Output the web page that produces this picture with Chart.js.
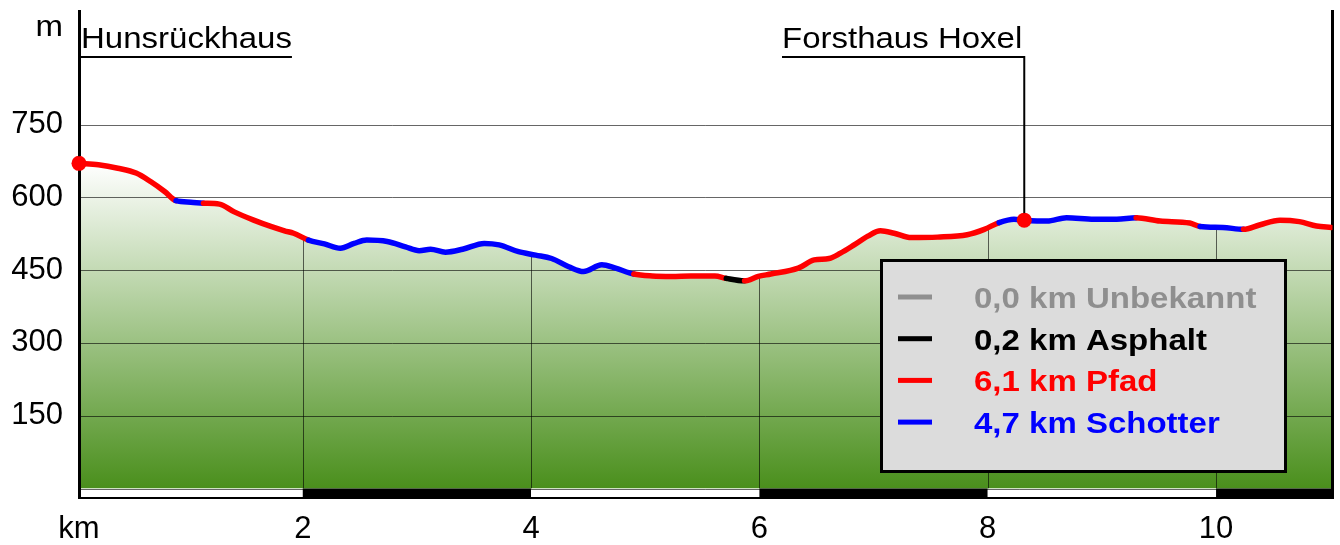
<!DOCTYPE html>
<html lang="de">
<head>
<meta charset="utf-8">
<title>Höhenprofil Hunsrückhaus – Forsthaus Hoxel</title>
<script src="https://cdn.jsdelivr.net/npm/chart.js@4.4.1/dist/chart.umd.min.js"></script>
<style>
    html, body { margin: 0; padding: 0; background: #fff; }
    #wrap { width: 1340px; height: 545px; }
</style>
</head>
<body>
<div id="wrap"><canvas id="profileChart" width="1340" height="545"></canvas></div>
<script>
// Streckenprofil: Distanz (km), Höhe (m), Wegbelag ab diesem Punkt
const distKm = [
    0.04, 0.21, 0.38, 0.54, 0.67, 0.79, 0.89, 1.02, 1.13, 1.27,
    1.40, 1.57, 1.72, 1.84, 1.92, 2.05, 2.19, 2.33, 2.45, 2.56,
    2.74, 2.90, 3.02, 3.12, 3.25, 3.40, 3.59, 3.72, 3.89, 4.04,
    4.18, 4.33, 4.46, 4.62, 4.74, 4.90, 5.06, 5.23, 5.40, 5.61,
    5.71, 5.87, 5.99, 6.10, 6.34, 6.48, 6.61, 6.71, 6.83, 6.95,
    7.06, 7.18, 7.33, 7.56, 7.82, 7.97, 8.10, 8.23, 8.32, 8.52,
    8.69, 8.93, 9.13, 9.30, 9.51, 9.77, 9.86, 10.06, 10.24, 10.38,
    10.56, 10.73, 10.88, 11.01
];
const elevM = [
    670, 667, 660, 650, 632, 612, 593, 590, 588, 586,
    570, 553, 540, 531, 526, 512, 504, 495, 505, 512,
    509, 498, 490, 493, 487, 493, 505, 502, 488, 481,
    474, 457, 447, 461, 454, 442, 438, 437, 438, 438,
    433, 428, 437, 442, 454, 471, 474, 485, 502, 520,
    531, 526, 517, 518, 523, 534, 548, 555, 553, 551,
    558, 555, 555, 558, 551, 547, 540, 538, 534, 543,
    553, 550, 541, 538
];
const surfaceCode = [
    'P', 'P', 'P', 'P', 'P', 'P', 'S', 'S', 'P', 'P',
    'P', 'P', 'P', 'P', 'P', 'S', 'S', 'S', 'S', 'S',
    'S', 'S', 'S', 'S', 'S', 'S', 'S', 'S', 'S', 'S',
    'S', 'S', 'S', 'S', 'S', 'P', 'P', 'P', 'P', 'P',
    'A', 'P', 'P', 'P', 'P', 'P', 'P', 'P', 'P', 'P',
    'P', 'P', 'P', 'P', 'P', 'P', 'S', 'S', 'S', 'S',
    'S', 'S', 'S', 'P', 'P', 'P', 'S', 'S', 'P', 'P',
    'P', 'P', 'P', 'P'
];

// Legende Wegbelag
const surfaceKeys = ['U', 'A', 'P', 'S'];
const surfaceNames = ['Unbekannt', 'Asphalt', 'Pfad', 'Schotter'];
const surfaceKm = ['0,0', '0,2', '6,1', '4,7'];
const surfaceColors = ['#8f8f8f', '#000000', '#ff0000', '#0000ff'];

// Wegpunkte (Index in das Profil)
const waypointNames = ['Hunsrückhaus', 'Forsthaus Hoxel'];
const waypointIdx = [0, 58];

// Achsen
const xMinKm = 0.04;
const xMaxKm = 11.02;
const xTicksKm = [2, 4, 6, 8, 10];
const yMinM = -21.6;
const yMaxM = 986;
const yTicksM = [150, 300, 450, 600, 750];
const gridM = [0, 150, 300, 450, 600, 750];

const FONT = "'Liberation Sans', Arial, sans-serif";
const STRETCH = 1.1;

const colorFor = (code) => surfaceColors[surfaceKeys.indexOf(code)];

function wideText(ctx, text, x, y, align) {
    ctx.save();
    ctx.translate(x, y);
    ctx.scale(STRETCH, 1);
    ctx.textAlign = align;
    ctx.textBaseline = 'alphabetic';
    ctx.fillText(text, 0, 0);
    ctx.restore();
}

const profileDecor = {
    id: 'profileDecor',
    afterDatasetDraw(chart, args) {
        // nach der Flächenfüllung, vor der farbigen Linie
        if (args.index !== 0) return;
        const { ctx, chartArea: a, scales: { x, y } } = chart;
        const y0 = y.getPixelForValue(0);

        ctx.save();
        // Maßstabsbalken unter dem Profil
        const edges = [x.min].concat(xTicksKm, [x.max]);
        for (let i = 0; i < edges.length - 1; i++) {
            const x1 = x.getPixelForValue(edges[i]);
            const x2 = x.getPixelForValue(edges[i + 1]);
            ctx.fillStyle = i % 2 === 0 ? '#ffffff' : '#000000';
            ctx.fillRect(x1, y0, x2 - x1, a.bottom - y0);
        }
        ctx.fillStyle = '#000';
        ctx.fillRect(a.left, a.bottom - 2, a.right - a.left, 2);

        // horizontale Gitterlinien
        ctx.strokeStyle = 'rgba(0,0,0,0.6)';
        ctx.lineWidth = 1;
        gridM.forEach(v => {
            const py = Math.round(y.getPixelForValue(v)) + 0.5;
            ctx.beginPath();
            ctx.moveTo(a.left, py);
            ctx.lineTo(a.right, py);
            ctx.stroke();
        });

        // senkrechte Linien nur unter dem Profil
        const pts = args.meta.data;
        ctx.save();
        ctx.beginPath();
        ctx.moveTo(pts[0].x, y0);
        pts.forEach(p => ctx.lineTo(p.x, p.y));
        ctx.lineTo(pts[pts.length - 1].x, y0);
        ctx.closePath();
        ctx.clip();
        xTicksKm.forEach(v => {
            const px = Math.round(x.getPixelForValue(v)) + 0.5;
            ctx.beginPath();
            ctx.moveTo(px, a.top);
            ctx.lineTo(px, y0);
            ctx.stroke();
        });
        ctx.restore();

        // Rahmen links / rechts
        ctx.strokeStyle = '#000';
        ctx.lineWidth = 3;
        [a.left + 0.5, a.right].forEach(px => {
            ctx.beginPath();
            ctx.moveTo(px, a.top);
            ctx.lineTo(px, a.bottom);
            ctx.stroke();
        });
        ctx.restore();
    },
    afterDatasetsDraw(chart) {
        const { ctx, chartArea: a } = chart;
        const wpMeta = chart.getDatasetMeta(2);
        const mid = (a.left + a.right) / 2;

        ctx.save();
        ctx.fillStyle = '#000';
        ctx.strokeStyle = '#000';
        ctx.font = '30px ' + FONT;

        // Einheit m
        wideText(ctx, 'm', 63, a.top + 26, 'right');

        // Wegpunkt-Beschriftungen
        waypointNames.forEach((name, i) => {
            const p = wpMeta.data[i];
            const w = ctx.measureText(name).width * STRETCH;
            const lineY = a.top + 47;
            const baseY = a.top + 38;
            let x1, x2;
            if (p.x < mid) {
                x1 = p.x; x2 = p.x + w + 2;
                wideText(ctx, name, p.x + 2, baseY, 'left');
            } else {
                x1 = p.x - w - 2; x2 = p.x;
                wideText(ctx, name, p.x - 2, baseY, 'right');
            }
            ctx.lineWidth = 2;
            ctx.beginPath();
            ctx.moveTo(x1, lineY);
            ctx.lineTo(x2, lineY);
            ctx.stroke();
            ctx.beginPath();
            ctx.moveTo(p.x, lineY - 1);
            ctx.lineTo(p.x, p.y - 7);
            ctx.stroke();
        });

        // Legende Wegbelag
        const box = { x: 881.5, y: 260.5, w: 404, h: 211 };
        ctx.fillStyle = '#dcdcdc';
        ctx.fillRect(box.x, box.y, box.w, box.h);
        ctx.lineWidth = 3;
        ctx.strokeRect(box.x, box.y, box.w, box.h);
        ctx.font = 'bold 30px ' + FONT;
        surfaceNames.forEach((name, i) => {
            const baseY = box.y + 47.5 + i * 41.7;
            ctx.fillStyle = surfaceColors[i];
            ctx.fillRect(898, baseY - 13.5, 34, 5);
            wideText(ctx, surfaceKm[i] + ' km ' + name, 974, baseY, 'left');
        });
        ctx.restore();
    }
};

document.addEventListener('DOMContentLoaded', function() {
    const canvas = document.getElementById('profileChart');
    const profilePoints = distKm.map((d, i) => ({ x: d, y: elevM[i] }));

    const fillGradient = (context) => {
        const chart = context.chart;
        if (!chart.chartArea) return '#9ac181';
        const y = chart.scales.y;
        const top = y.getPixelForValue(Math.max(...elevM));
        const bottom = y.getPixelForValue(0);
        const g = chart.ctx.createLinearGradient(0, top, 0, bottom);
        g.addColorStop(0, '#ffffff');
        g.addColorStop(1, '#4a8f1c');
        return g;
    };

    new Chart(canvas, {
        data: {
            datasets: [{
                type: 'line',
                label: 'Fläche',
                data: profilePoints,
                borderWidth: 0,
                cubicInterpolationMode: 'monotone',
                pointRadius: 0,
                fill: 'origin',
                backgroundColor: fillGradient,
                order: 2
            }, {
                type: 'line',
                label: 'Profil',
                data: profilePoints,
                borderWidth: 5.5,
                borderCapStyle: 'round',
                borderJoinStyle: 'round',
                cubicInterpolationMode: 'monotone',
                pointRadius: 0,
                fill: false,
                segment: {
                    borderColor: c => colorFor(surfaceCode[c.p0DataIndex])
                },
                order: 1
            }, {
                type: 'scatter',
                label: 'Wegpunkte',
                data: waypointIdx.map(i => ({ x: distKm[i], y: elevM[i] })),
                pointRadius: 7.5,
                pointBackgroundColor: '#ff0000',
                pointBorderWidth: 0,
                clip: false,
                order: 0
            }]
        },
        options: {
            responsive: false,
            devicePixelRatio: 1,
            animation: false,
            layout: { padding: { top: 10, right: 4, left: 0, bottom: 0 } },
            plugins: {
                legend: { display: false },
                tooltip: { enabled: false }
            },
            scales: {
                x: {
                    type: 'linear',
                    min: xMinKm,
                    max: xMaxKm,
                    grid: { display: false, drawTicks: false },
                    border: { display: false },
                    afterBuildTicks: s => {
                        s.ticks = [s.min].concat(xTicksKm).map(v => ({ value: v }));
                    },
                    afterFit: s => {
                        s.height = 46;
                        s.paddingLeft = 0;
                        s.paddingRight = 0;
                    },
                    ticks: {
                        autoSkip: false,
                        maxRotation: 0,
                        padding: 12,
                        color: '#000',
                        font: { family: FONT, size: 31 },
                        callback: (v, i) => i === 0 ? 'km' : v
                    }
                },
                y: {
                    min: yMinM,
                    max: yMaxM,
                    grid: { display: false, drawTicks: false },
                    border: { display: false },
                    afterBuildTicks: s => {
                        s.ticks = yTicksM.map(v => ({ value: v }));
                    },
                    afterFit: s => {
                        s.width = 79;
                        s.paddingTop = 0;
                        s.paddingBottom = 0;
                    },
                    ticks: {
                        padding: 16,
                        color: '#000',
                        font: { family: FONT, size: 31 }
                    }
                }
            }
        },
        plugins: [profileDecor]
    });
});
</script>
</body>
</html>
